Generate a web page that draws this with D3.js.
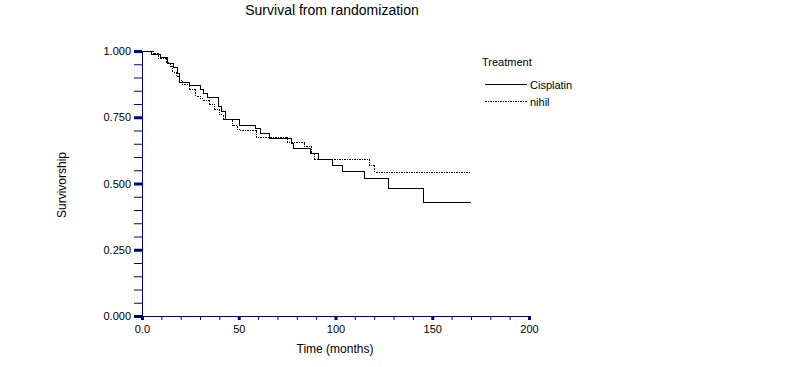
<!DOCTYPE html>
<html>
<head>
<meta charset="utf-8">
<script src="https://cdn.jsdelivr.net/npm/d3@7"></script>
<style>
body { margin: 0; background: #fff; }
text { font-family: "Liberation Sans", Arial, sans-serif; }
</style>
</head>
<body>
<div id="chart-area"></div>
<script>
// Kaplan-Meier steps
var cisplatinTime = [0, 4.7, 9.8, 13.4, 16.2, 18.2, 19.6, 24.8, 30.0, 31.7, 34.1, 39.3, 41.2, 42.9, 50.6, 58.4, 61.0, 66.1, 77.5, 78.5, 87.2, 91.0, 98.3, 103.5, 115.2, 127.3, 145.4];
var cisplatinSurv = [1.0, 0.985, 0.976, 0.951, 0.937, 0.916, 0.883, 0.869, 0.853, 0.838, 0.823, 0.79, 0.771, 0.74, 0.72, 0.708, 0.69, 0.67, 0.65, 0.633, 0.612, 0.59, 0.569, 0.546, 0.517, 0.482, 0.429];
var nihilTime = [0, 5.8, 8.3, 12.8, 14.5, 16.0, 17.6, 19.6, 20.7, 24.8, 27.9, 30.0, 31.5, 35.1, 37.7, 39.8, 41.9, 47.0, 49.1, 50.6, 59.3, 75.1, 84.2, 87.7, 89.4, 117.5, 120.4];
var nihilSurv = [1.0, 0.99, 0.972, 0.955, 0.94, 0.92, 0.905, 0.89, 0.875, 0.855, 0.83, 0.82, 0.815, 0.80, 0.78, 0.76, 0.74, 0.72, 0.705, 0.70, 0.673, 0.656, 0.638, 0.615, 0.592, 0.569, 0.542];
var endTime = 170;

var xMajor = [0, 50, 100, 150, 200];
var xLabels = ["0.0", "50", "100", "150", "200"];
var yMajor = [0, 0.25, 0.5, 0.75, 1.0];
var yLabels = ["0.000", "0.250", "0.500", "0.750", "1.000"];

var navy = "#000080";

var svg = d3.select("#chart-area").append("svg")
    .attr("width", 796)
    .attr("height", 367);

var x = d3.scaleLinear().domain([0, 200]).range([142, 529]);
var y = d3.scaleLinear().domain([0, 1]).range([316, 51]);

// title
svg.append("text")
    .attr("x", 332).attr("y", 15)
    .attr("text-anchor", "middle")
    .style("font-size", "14px")
    .text("Survival from randomization");

// y axis: minor ticks, then major ticks with labels
var yMinor = d3.range(0, 21).map((i)=>{ return i * 0.05; });
svg.append("g")
    .attr("transform", "translate(142,0)")
    .call(d3.axisLeft(y).tickValues(yMinor).tickSize(8).tickFormat(""))
    .call((g)=>{ g.selectAll("line, path").attr("stroke", navy); });

var yAx = svg.append("g")
    .attr("transform", "translate(142,0)")
    .call(d3.axisLeft(y).tickValues(yMajor).tickSize(8).tickSizeOuter(0).tickPadding(3)
        .tickFormat((d, i)=>{ return yLabels[i]; }));
yAx.select("path").attr("stroke", navy);
yAx.selectAll("line").attr("stroke", navy).attr("stroke-width", 3);
yAx.selectAll("text").attr("fill", "#000").style("font-size", "11px");

// x axis
var xMinor = d3.range(0, 21).map((i)=>{ return i * 10; });
svg.append("g")
    .attr("transform", "translate(0,316)")
    .call(d3.axisBottom(x).tickValues(xMinor).tickSize(4).tickSizeOuter(0).tickFormat(""))
    .call((g)=>{ g.selectAll("line, path").attr("stroke", navy); });

var xAx = svg.append("g")
    .attr("transform", "translate(0,316)")
    .call(d3.axisBottom(x).tickValues(xMajor).tickSize(4).tickSizeOuter(0).tickPadding(5)
        .tickFormat((d, i)=>{ return xLabels[i]; }));
xAx.select("path").attr("stroke", navy);
xAx.selectAll("line").attr("stroke", navy).attr("stroke-width", 3);
xAx.selectAll("text").attr("fill", "#000").style("font-size", "11px");

svg.append("text")
    .attr("x", 335).attr("y", 353)
    .attr("text-anchor", "middle")
    .style("font-size", "12px")
    .text("Time (months)");

svg.append("text")
    .attr("transform", "translate(66,185) rotate(-90)")
    .attr("text-anchor", "middle")
    .style("font-size", "12px")
    .text("Survivorship");

// curves
function steps(times, surv) {
    var pts = times.map((t, i)=>{ return [t, surv[i]]; });
    pts.push([endTime, surv[surv.length - 1]]);
    return pts;
}

var line = d3.line()
    .x((d)=>{ return x(d[0]); })
    .y((d)=>{ return y(d[1]); })
    .curve(d3.curveStepAfter);

svg.append("path")
    .attr("d", line(steps(nihilTime, nihilSurv)))
    .attr("fill", "none")
    .attr("stroke", "#000")
    .attr("stroke-width", 1)
    .attr("stroke-dasharray", "2,1,1,1")
    .attr("shape-rendering", "crispEdges");

svg.append("path")
    .attr("d", line(steps(cisplatinTime, cisplatinSurv)))
    .attr("fill", "none")
    .attr("stroke", "#000")
    .attr("stroke-width", 1)
    .attr("shape-rendering", "crispEdges");

// legend
svg.append("text")
    .attr("x", 482).attr("y", 66)
    .style("font-size", "11px")
    .text("Treatment");

var legend = [["Cisplatin", null, 84.5], ["nihil", "2,1,1,1", 101.5]];
legend.forEach((d)=>{
    svg.append("line")
        .attr("x1", 485).attr("x2", 527)
        .attr("y1", d[2]).attr("y2", d[2])
        .attr("stroke", "#000")
        .attr("stroke-dasharray", d[1]);
    svg.append("text")
        .attr("x", 530).attr("y", d[2] + 4)
        .style("font-size", "11px")
        .text(d[0]);
});
</script>
</body>
</html>
